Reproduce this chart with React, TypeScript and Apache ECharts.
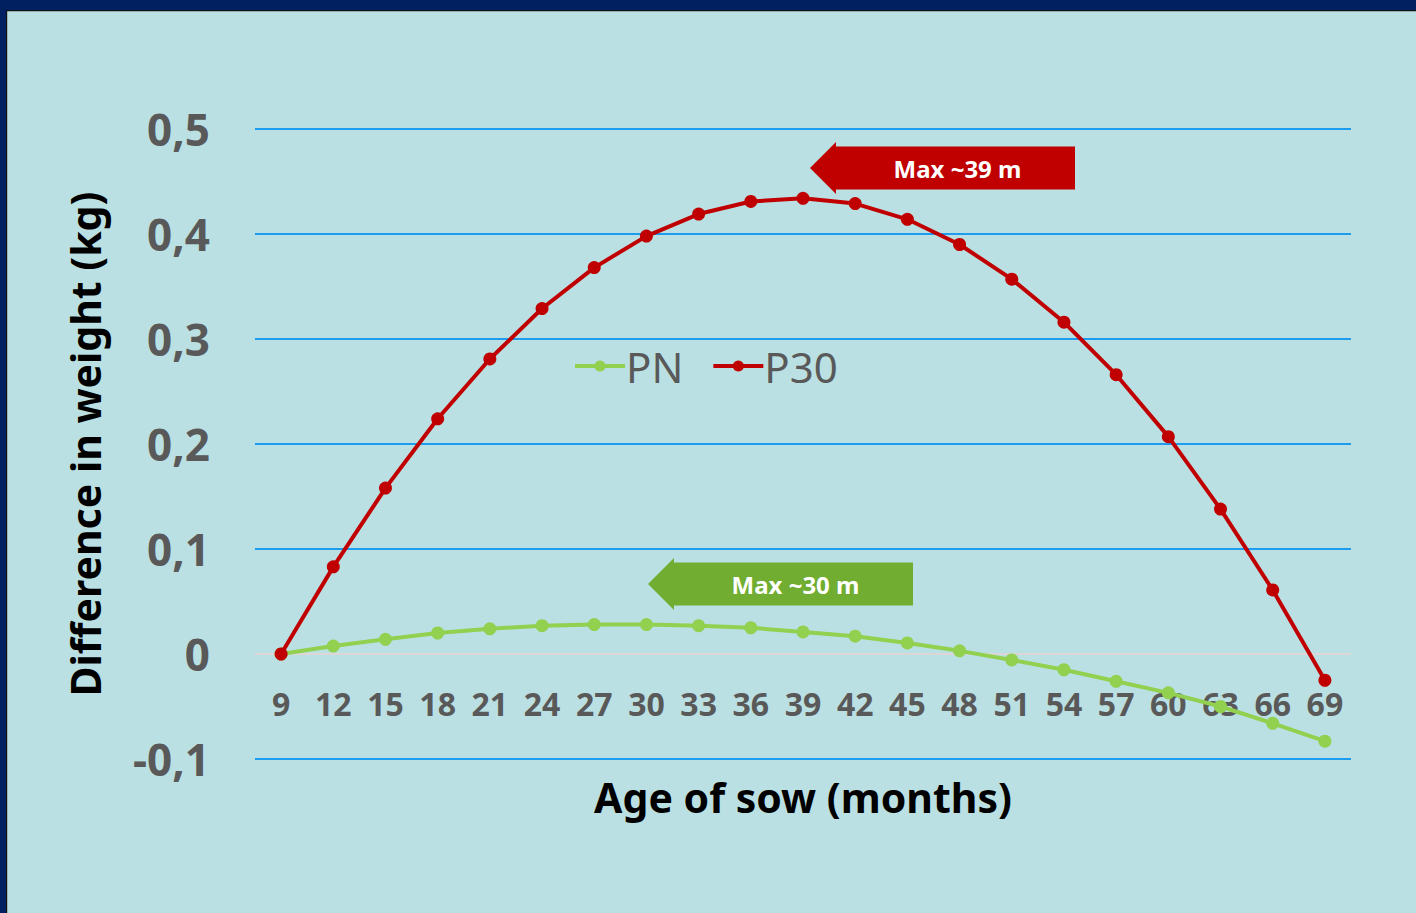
import React, { useEffect, useRef } from "react";
import * as echarts from "echarts";

const ages = ["9","12","15","18","21","24","27","30","33","36","39","42","45","48","51","54","57","60","63","66","69"];
const pnValues = [0, 0.0076, 0.014, 0.020, 0.024, 0.027, 0.028, 0.028, 0.027, 0.025, 0.021, 0.017, 0.0105, 0.003, -0.0057, -0.015, -0.026, -0.037, -0.050, -0.066, -0.083];
const p30Values = [0, 0.083, 0.158, 0.224, 0.281, 0.329, 0.368, 0.398, 0.419, 0.431, 0.434, 0.429, 0.414, 0.390, 0.357, 0.316, 0.266, 0.207, 0.138, 0.061, -0.025];
const seriesNames = ["PN", "P30"];
const yAxisTitle = "Difference in weight (kg)";
const xAxisTitle = "Age of sow (months)";
const calloutTexts = ["Max ~39 m", "Max ~30 m"];

const FONT = "'Noto Sans', 'DejaVu Sans', sans-serif";
const RED = "#C00000";
const GREEN = "#92D050";
const GREEN_DARK = "#70AD30";
const GRAY = "#595959";
const BLUE = "#1E9CF0";

function arrow(tipX: number, tipY: number, endX: number, color: string, text: string) {
  const head = 26;
  const headH = 26;
  const shaftH = 21.5;
  return [
    {
      type: "polygon",
      shape: {
        points: [
          [tipX, tipY],
          [tipX + head, tipY - headH],
          [tipX + head, tipY - shaftH],
          [endX, tipY - shaftH],
          [endX, tipY + shaftH],
          [tipX + head, tipY + shaftH],
          [tipX + head, tipY + headH],
        ],
      },
      style: { fill: color },
      z: 10,
    },
    {
      type: "text",
      x: (tipX + head + endX) / 2 + 2,
      y: tipY,
      style: {
        text,
        fill: "#ffffff",
        font: `bold 24px ${FONT}`,
        align: "center",
        verticalAlign: "middle",
      },
      z: 11,
    },
  ];
}

export default function App() {
  const ref = useRef<HTMLDivElement>(null);
  useEffect(() => {
    document.body.style.margin = "0";
    const chart = echarts.init(ref.current!, undefined, { renderer: "svg" });
    const fmt = (v: number) => {
      const r = Math.round(v * 10) / 10;
      if (r === 0) return "0";
      return r.toFixed(1).replace(".", ",");
    };
    chart.setOption({
      animation: false,
      backgroundColor: "#BBE0E3",
      textStyle: { fontFamily: FONT },
      grid: { left: 255, right: 65, top: 129, bottom: 154, containLabel: false, outerBoundsMode: "none" },
      legend: {
        data: seriesNames,
        left: 568,
        top: 340,
        itemWidth: 50,
        itemHeight: 14,
        itemGap: 28,
        lineStyle: { width: 4 },
        textStyle: { fontSize: 42, color: GRAY, fontFamily: FONT, padding: [0, 0, 0, -4] },
      },
      xAxis: {
        type: "category",
        data: ages,
        boundaryGap: true,
        axisLine: { show: false, onZero: false },
        axisTick: { show: false },
        axisLabel: { interval: 0, margin: -72, fontSize: 32, fontWeight: "bold", color: GRAY, fontFamily: FONT },
        name: xAxisTitle,
        nameLocation: "middle",
        nameGap: 17,
        nameTextStyle: { fontSize: 41, fontWeight: "bold", color: "#000", fontFamily: FONT },
        splitLine: { show: false },
      },
      yAxis: {
        type: "value",
        min: -0.1,
        max: 0.5,
        interval: 0.1,
        axisLine: { show: false },
        axisTick: { show: false },
        axisLabel: { formatter: fmt, margin: 45, fontSize: 44, fontWeight: "bold", color: GRAY, fontFamily: FONT },
        splitLine: {
          lineStyle: { color: [BLUE, "#DCD6D6", BLUE, BLUE, BLUE, BLUE, BLUE], width: 2 },
        },
        name: yAxisTitle,
        nameLocation: "middle",
        nameGap: 150,
        nameTextStyle: { fontSize: 41, fontWeight: "bold", color: "#000", fontFamily: FONT },
      },
      series: [
        {
          name: seriesNames[0],
          type: "line",
          data: pnValues,
          symbol: "circle",
          symbolSize: 13,
          lineStyle: { color: GREEN, width: 4 },
          itemStyle: { color: GREEN },
          z: 3,
        },
        {
          name: seriesNames[1],
          type: "line",
          data: p30Values,
          symbol: "circle",
          symbolSize: 13,
          lineStyle: { color: RED, width: 4 },
          itemStyle: { color: RED },
          z: 4,
        },
      ],
      graphic: [
        { type: "rect", shape: { x: 0, y: 0, width: 1416, height: 11 }, style: { fill: "#002060" }, z: 20 },
        { type: "rect", shape: { x: 0, y: 0, width: 7, height: 913 }, style: { fill: "#002060" }, z: 20 },
        { type: "rect", shape: { x: 6, y: 10, width: 1410, height: 1.2 }, style: { fill: "#111111" }, z: 21 },
        { type: "rect", shape: { x: 6, y: 10, width: 1.2, height: 903 }, style: { fill: "#111111" }, z: 21 },
        ...arrow(810, 168, 1075, RED, calloutTexts[0]),
        ...arrow(648, 584, 913, GREEN_DARK, calloutTexts[1]),
      ],
    });
    return () => chart.dispose();
  }, []);
  return <div ref={ref} style={{ position: "absolute", left: 0, top: 0, width: 1416, height: 913 }} />;
}
